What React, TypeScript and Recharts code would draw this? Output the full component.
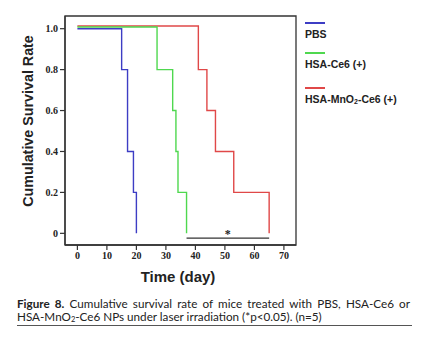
import React from 'react';
import { LineChart, Line, XAxis, YAxis, ReferenceArea, ReferenceLine } from 'recharts';

// Kaplan-Meier style step data (days at which survival changes)
const pbsDays = [0, 15, 17, 19, 20];
const pbsRate = [1.0, 0.8, 0.4, 0.2, 0];
const ce6Days = [0, 27, 32.3, 33.4, 34.1, 37];
const ce6Rate = [1.008, 0.8, 0.6, 0.4, 0.2, 0];
const mnDays = [0, 41, 43.9, 46.8, 53, 65];
const mnRate = [1.013, 0.8, 0.6, 0.4, 0.2, 0];

const xTicks = [0, 10, 20, 30, 40, 50, 60, 70];
const yTicks = [0, 0.2, 0.4, 0.6, 0.8, 1.0];
const sigStart = 37;
const sigEnd = 65;
const sigLevel = -0.023;

const seriesNames = ['PBS', 'HSA-Ce6 (+)', 'HSA-MnO2-Ce6 (+)'];
const seriesColors = ['#3d3dc4', '#4fd84f', '#e04848'];

const toData = (days: number[], rate: number[]) => days.map((d, i) => ({ day: d, rate: rate[i] }));
const pbsData = toData(pbsDays, pbsRate);
const ce6Data = toData(ce6Days, ce6Rate);
const mnData = toData(mnDays, mnRate);

const X_DOMAIN: [number, number] = [-4.2, 74.1];
const Y_DOMAIN: [number, number] = [-0.057, 1.062];

const tickStyle = { fontFamily: '"Liberation Serif", serif', fontWeight: 700, fontSize: 10, fill: '#222' };

const YTitle = () => (
  <text x={28} y={121} transform="rotate(-90 28 121)" textAnchor="middle" dominantBaseline="central"
    style={{ fontFamily: '"Liberation Sans", Arial, sans-serif', fontWeight: 700, fontSize: 14.3, fill: '#222' }}>
    Cumulative Survival Rate
  </text>
);

const XTitle = () => (
  <text x={178} y={276} textAnchor="middle" dominantBaseline="central"
    style={{ fontFamily: '"Liberation Sans", Arial, sans-serif', fontWeight: 700, fontSize: 15, fill: '#222' }}>
    Time (day)
  </text>
);

const legendTops = [22, 52, 87];

const LegendBlock = () => (
  <div style={{ position: 'absolute', left: 305, top: 0, width: 120, height: 110 }}>
    {seriesNames.map((name, i) => (
      <div key={name} style={{ position: 'absolute', left: 0, top: legendTops[i] }}>
        <div style={{ width: 20, height: 1.5, background: seriesColors[i] }} />
        <div style={{ marginTop: 4, fontFamily: '"Liberation Sans", Arial, sans-serif', fontWeight: 700, fontSize: 10.5, color: '#222', whiteSpace: 'nowrap', lineHeight: '12px' }}>
          {name.includes('MnO2') ? (<>HSA-MnO<sub style={{ fontSize: 7, verticalAlign: 'baseline', position: 'relative', top: 1 }}>2</sub>-Ce6 (+)</>) : name}
        </div>
      </div>
    ))}
  </div>
);

export default function App() {
  const captionFont = { fontFamily: 'Lato, "Open Sans", sans-serif', fontSize: 11.7, color: '#222', lineHeight: '13px' };
  return (
    <div style={{ position: 'absolute', left: 0, top: 0, width: 432, height: 346, background: '#fff' }}>
      <LineChart width={432} height={346} margin={{ top: 16, right: 136, bottom: 71, left: 5 }}>
        <XAxis type="number" dataKey="day" domain={X_DOMAIN} ticks={xTicks} allowDataOverflow interval={0}
          height={30} tick={tickStyle} tickSize={5} tickMargin={2}
          axisLine={{ stroke: '#333', strokeWidth: 1.3 }} tickLine={{ stroke: '#333', strokeWidth: 1.2 }}
          label={<XTitle />} />
        <YAxis type="number" dataKey="rate" domain={Y_DOMAIN} ticks={yTicks} allowDataOverflow interval={0}
          width={60} tick={tickStyle} tickSize={5} tickMargin={2}
          tickFormatter={(v: number) => (v === 0 ? '0' : v.toFixed(1))}
          axisLine={{ stroke: '#333', strokeWidth: 1.3 }} tickLine={{ stroke: '#333', strokeWidth: 1.2 }}
          label={<YTitle />} />
        <ReferenceArea x1={X_DOMAIN[0]} x2={X_DOMAIN[1]} y1={Y_DOMAIN[0]} y2={Y_DOMAIN[1]}
          fill="none" stroke="#333" strokeWidth={1.3} fillOpacity={0} ifOverflow="visible" />
        <Line data={pbsData} dataKey="rate" type="stepAfter" stroke={seriesColors[0]} strokeWidth={1.4} dot={false} isAnimationActive={false} />
        <Line data={mnData} dataKey="rate" type="stepAfter" stroke={seriesColors[2]} strokeWidth={1.4} dot={false} isAnimationActive={false} />
        <Line data={ce6Data} dataKey="rate" type="stepAfter" stroke={seriesColors[1]} strokeWidth={1.4} dot={false} isAnimationActive={false} />
        <ReferenceLine segment={[{ x: sigStart, y: sigLevel }, { x: sigEnd, y: sigLevel }]} stroke="#333" strokeWidth={1.2} ifOverflow="visible"
          label={{ value: '*', position: 'top', offset: 0, style: { fontFamily: '"Liberation Serif", serif', fontWeight: 700, fontSize: 12, fill: '#222' } }} />
      </LineChart>
      <LegendBlock />
      <div style={{ position: 'absolute', left: 17, top: 297, width: 393, ...captionFont }}>
        <div style={{ textAlign: 'justify', textAlignLast: 'justify', whiteSpace: 'nowrap' as const }}>
          <b>Figure 8.</b> Cumulative survival rate of mice treated with PBS, HSA-Ce6 or
        </div>
        <div style={{ whiteSpace: 'nowrap' }}>
          HSA-MnO<sub style={{ fontSize: 7.5, verticalAlign: 'baseline', position: 'relative', top: 1 }}>2</sub>-Ce6 NPs under laser irradiation (*p&lt;0.05). (n=5)
        </div>
      </div>
      <div style={{ position: 'absolute', left: 17, top: 325, width: 395, height: 0, borderTop: '1px solid #555' }} />
    </div>
  );
}
